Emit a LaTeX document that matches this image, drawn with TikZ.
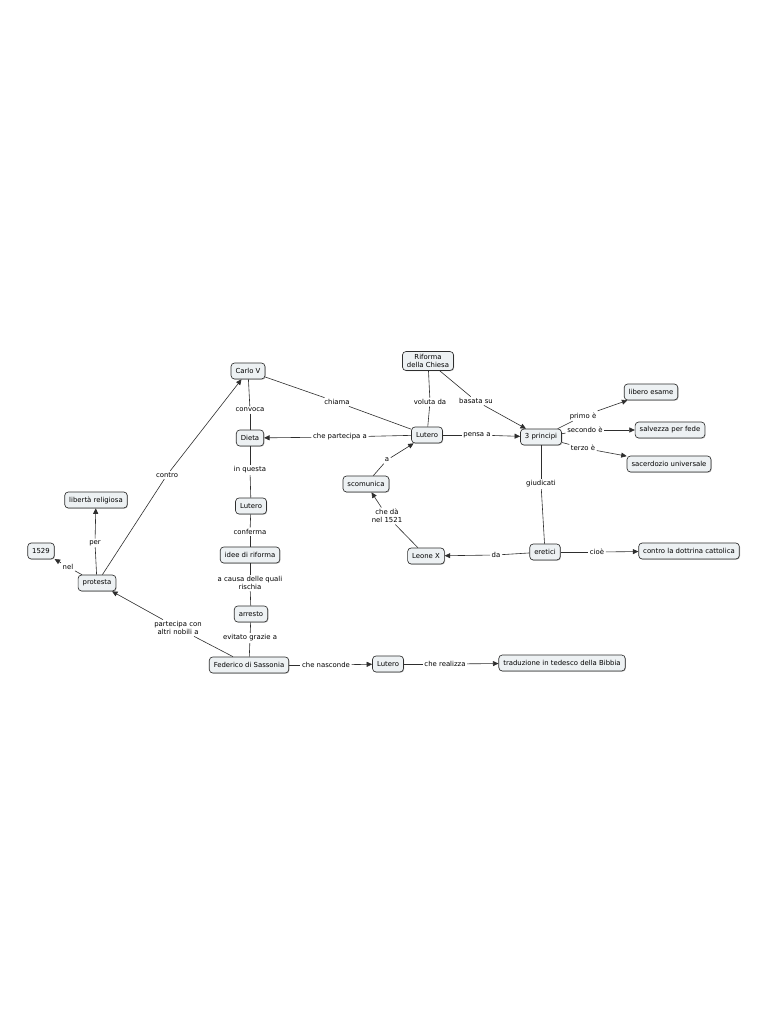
\documentclass[tikz,border=0pt]{standalone}
\usepackage{fontspec}
\setmainfont{DejaVu Sans}
\usetikzlibrary{arrows.meta,shadows}
\definecolor{cmapfill}{HTML}{EDF1F3}
\definecolor{cmapline}{HTML}{2E2E2E}
\begin{document}
\begin{tikzpicture}[x=1pt,y=-1pt,
  box/.style={draw=cmapline, fill=cmapfill, rounded corners=3.5pt, inner xsep=4.5pt, inner ysep=2.8pt,
    minimum height=16pt, font=\fontsize{6.9}{8}\selectfont, align=center, line width=0.65pt,
    drop shadow={shadow xshift=0.7pt, shadow yshift=-0.7pt, fill=black!45, opacity=0.6}},
  lbl/.style={font=\fontsize{6.9}{8}\selectfont, inner sep=1.5pt, align=center},
  conn/.style={draw=cmapline, line width=0.6pt},
  arr/.style={conn, -{Triangle[length=5.5pt,width=5pt]}}]
\path[use as bounding box, fill=white] (0,0) rectangle (768,1024);

% concepts
\node[box] (carlo) at (248,371) {Carlo V};
\node[box] (dieta) at (250,438) {Dieta};
\node[box] (lut1) at (251,506) {Lutero};
\node[box] (idee) at (250,555) {idee di riforma};
\node[box] (arresto) at (251,614) {arresto};
\node[box] (fed) at (249,665) {Federico di Sassonia};
\node[box] (rif) at (428,361) {Riforma\\della Chiesa};
\node[box] (lut2) at (427,435) {Lutero};
\node[box] (tre) at (541,437) {3 principi};
\node[box] (libero) at (651,392) {libero esame};
\node[box] (salv) at (670,430) {salvezza per fede};
\node[box] (sac) at (669,464) {sacerdozio universale};
\node[box] (scom) at (366,484) {scomunica};
\node[box] (leone) at (426,556) {Leone X};
\node[box] (eret) at (545,552) {eretici};
\node[box] (contro) at (689,551) {contro la dottrina cattolica};
\node[box] (lut3) at (388,664) {Lutero};
\node[box] (trad) at (562,663) {traduzione in tedesco della Bibbia};
\node[box] (liberta) at (96,500) {libertà religiosa};
\node[box] (y1529) at (41,551) {1529};
\node[box] (prot) at (97,583) {protesta};

% linking phrases
\node[lbl] (l1) at (250,410) {convoca};
\node[lbl] (l2) at (250,470) {in questa};
\node[lbl] (l3) at (250,532) {conferma};
\node[lbl] (l4) at (250,583) {a causa delle quali\\rischia};
\node[lbl] (l5) at (250,638) {evitato grazie a};
\node[lbl] (l6) at (337,402) {chiama};
\node[lbl] (l7) at (340,437) {che partecipa a};
\node[lbl] (l8) at (430,402) {voluta da};
\node[lbl] (l9) at (476,401) {basata su};
\node[lbl] (l10) at (477,435) {pensa a};
\node[lbl] (l11) at (387,460) {a};
\node[lbl] (l12) at (387,516) {che dà\\nel 1521};
\node[lbl] (l13) at (583,416) {primo è};
\node[lbl] (l14) at (585,430) {secondo è};
\node[lbl] (l15) at (583,448) {terzo è};
\node[lbl] (l16) at (541,484) {giudicati};
\node[lbl] (l17) at (496,555) {da};
\node[lbl] (l18) at (597,552) {cioè};
\node[lbl] (l19) at (326,665) {che nasconde};
\node[lbl] (l20) at (445,664) {che realizza};
\node[lbl] (l21) at (167,475) {contro};
\node[lbl] (l22) at (95,543) {per};
\node[lbl] (l23) at (68,567) {nel};
\node[lbl] (l24) at (178,628) {partecipa con\\altri nobili a};

% connections
\draw[conn] (carlo) -- (l1); \draw[conn] (l1) -- (dieta);
\draw[conn] (dieta) -- (l2); \draw[conn] (l2) -- (lut1);
\draw[conn] (lut1) -- (l3); \draw[conn] (l3) -- (idee);
\draw[conn] (idee) -- (l4); \draw[conn] (l4) -- (arresto);
\draw[conn] (arresto) -- (l5); \draw[conn] (l5) -- (fed);
\draw[conn] (carlo) -- (l6); \draw[conn] (l6) -- (lut2);
\draw[conn] (lut2) -- (l7); \draw[arr] (l7) -- (dieta);
\draw[conn] (rif) -- (l8); \draw[conn] (l8) -- (lut2);
\draw[conn] (rif) -- (l9); \draw[arr] (l9) -- (tre);
\draw[conn] (lut2) -- (l10); \draw[arr] (l10) -- (tre);
\draw[conn] (tre) -- (l13); \draw[arr] (l13) -- (libero);
\draw[conn] (tre) -- (l14); \draw[arr] (l14) -- (salv);
\draw[conn] (tre) -- (l15); \draw[arr] (l15) -- (sac);
\draw[conn] (tre) -- (l16); \draw[conn] (l16) -- (eret);
\draw[conn] (eret) -- (l17); \draw[arr] (l17) -- (leone);
\draw[conn] (eret) -- (l18); \draw[arr] (l18) -- (contro);
\draw[conn] (leone) -- (l12); \draw[arr] (l12) -- (scom);
\draw[conn] (scom) -- (l11); \draw[arr] (l11) -- (lut2);
\draw[conn] (fed) -- (l19); \draw[arr] (l19) -- (lut3);
\draw[conn] (lut3) -- (l20); \draw[arr] (l20) -- (trad);
\draw[conn] (fed) -- (l24); \draw[arr] (l24) -- (prot);
\draw[conn] (prot) -- (l21); \draw[arr] (l21) -- (carlo);
\draw[conn] (prot) -- (l22); \draw[arr] (l22) -- (liberta);
\draw[conn] (prot) -- (l23); \draw[arr] (l23) -- (y1529);
\end{tikzpicture}
\end{document}
